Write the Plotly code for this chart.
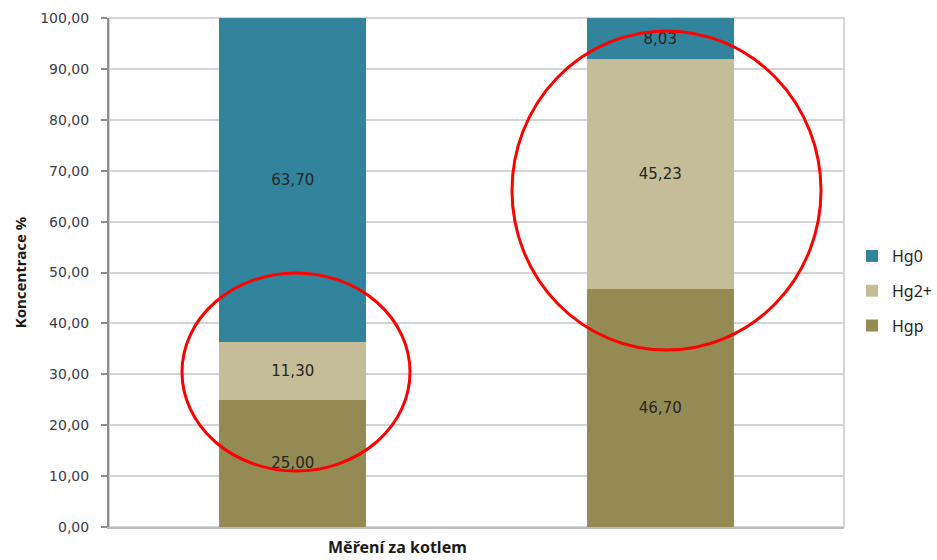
import plotly.graph_objects as go

# Mercury species share (%) for the two measurements
categories = ["Měření 1", "Měření 2"]
hgp = [25.00, 46.70]
hg2 = [11.30, 45.23]
hg0 = [63.70, 8.03]

series = [
    ("Hgp", hgp, "#948A54", 3),
    ("Hg2+", hg2, "#C4BD97", 2),
    ("Hg0", hg0, "#31849B", 1),
]

y_ticks = [0, 10, 20, 30, 40, 50, 60, 70, 80, 90, 100]

fig = go.Figure()
for name, vals, color, rank in series:
    fig.add_trace(go.Bar(
        x=categories,
        y=vals,
        name=name,
        legendgroup=name,
        legendrank=rank,
        marker=dict(color=color, line=dict(width=0)),
        texttemplate="%{y:.2f}",
        textposition="inside",
        insidetextanchor="middle",
        textangle=0,
        constraintext="none",
        textfont=dict(family="DejaVu Sans", size=15, color="#262626"),
        hoverinfo="skip",
    ))

L, R, T, B = 109, 93, 18, 33
W, H = 937, 560
pw, ph = W - L - R, H - T - B


def px_x(v):
    return (v - L) / pw


def px_y(v):
    return (H - B - v) / ph


shapes = [
    # plot area border
    dict(type="rect", xref="paper", yref="paper", x0=0, x1=1, y0=0, y1=1,
         line=dict(color="#C8C8C8", width=1.5), layer="below"),
    # highlight ellipses
    dict(type="circle", xref="paper", yref="paper",
         x0=px_x(182), x1=px_x(410), y0=px_y(471), y1=px_y(273),
         line=dict(color="#FF0000", width=3)),
    dict(type="circle", xref="paper", yref="paper",
         x0=px_x(512), x1=px_x(821), y0=px_y(350), y1=px_y(31),
         line=dict(color="#FF0000", width=3)),
]

fig.update_layout(
    width=W, height=H,
    margin=dict(l=L, r=R, t=T, b=B, autoexpand=False),
    paper_bgcolor="white",
    plot_bgcolor="white",
    barmode="stack",
    bargap=0.6,
    separators=", ",
    showlegend=True,
    legend=dict(
        xref="container", yref="container",
        x=852 / W, xanchor="left",
        y=1 - 239 / H, yanchor="top",
        traceorder="grouped",
        tracegroupgap=11,
        font=dict(family="Noto Sans", size=16, color="#262626"),
        bgcolor="rgba(0,0,0,0)",
        itemwidth=30,
    ),
    shapes=shapes,
    annotations=[
        dict(text="<b>Měření za kotlem</b>", xref="paper", yref="paper",
             x=px_x(397), y=0, yshift=-20, xanchor="center", yanchor="middle",
             showarrow=False,
             font=dict(family="Noto Sans", size=16, color="#1a1a1a")),
    ],
)

fig.update_xaxes(
    showticklabels=False,
    ticks="",
    showgrid=False,
    showline=True,
    linecolor="#BDBDBD",
    linewidth=2,
    zeroline=False,
)

fig.update_yaxes(
    range=[0, 100],
    tickvals=y_ticks,
    tickformat=".2f",
    showgrid=True,
    gridcolor="#D4D4D4",
    gridwidth=1.5,
    showline=True,
    linecolor="#8C8C8C",
    linewidth=2,
    ticks="outside",
    ticklen=6,
    tickwidth=2,
    tickcolor="#8C8C8C",
    ticklabelstandoff=9,
    zeroline=False,
    tickfont=dict(family="DejaVu Sans", size=14, color="#3a3a4a"),
    title=dict(text="<b>Koncentrace %</b>", standoff=10,
               font=dict(family="Noto Sans", size=15, color="#1a1a1a")),
)

fig.write_html("out.html")
